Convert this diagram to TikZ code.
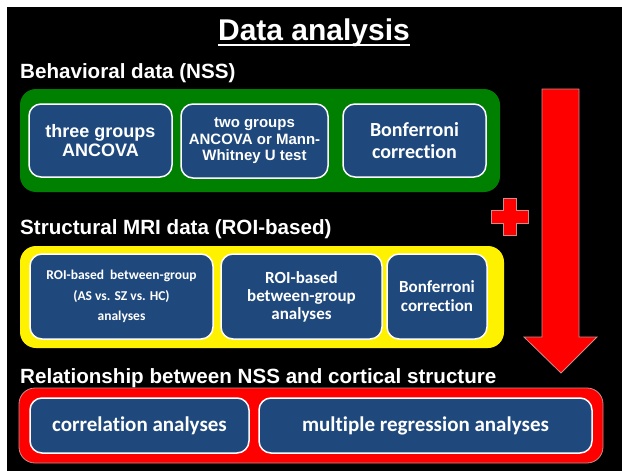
\documentclass[tikz,border=0pt]{standalone}
\usepackage{fontspec}
\newfontfamily\arialf{Liberation Sans}
\newfontfamily\calf{Carlito}[Ligatures=NoCommon]
\definecolor{boxblue}{RGB}{31,73,125}
\definecolor{grn}{RGB}{0,128,0}
\definecolor{edgered}{RGB}{205,140,140}
\begin{document}
\begin{tikzpicture}[x=1pt,y=-1pt,
  ibox/.style={draw=white, line width=1.5pt, fill=boxblue, rounded corners=12pt, text=white, align=center, inner sep=0pt},
  grp/.style={rounded corners=16pt, inner sep=0pt},
  head/.style={text=white, anchor=base west, inner sep=0pt, font=\arialf\bfseries\fontsize{20.6}{24}\selectfont},
  redshape/.style={fill=red, draw=edgered, line width=0.8pt}]
\useasboundingbox (0,0) rectangle (622,471);
\fill[white] (0,0) rectangle (622,471);
\fill[black] (7,7) rectangle (622,471);

% title
\node[text=white, inner sep=0pt, anchor=base, font=\arialf\bfseries\fontsize{30}{36}\selectfont] (title) at (314,41) {Data analysis};
\draw[white, line width=2pt] ([yshift=-4pt]title.base west) -- ([yshift=-4pt]title.base east);

% headings
\node[head] (hbeh) at (20,78) {Behavioral data (NSS)};
\node[head] (hmri) at (20,234) {Structural MRI data (ROI-based)};
\node[head] (hrel) at (20,383) {Relationship between NSS and cortical structure};

% group boxes
\node[grp, fill=grn, minimum width=480pt, minimum height=103pt] (gbeh) at (260,140.5) {};
\node[grp, fill=yellow, minimum width=484pt, minimum height=102pt] (gmri) at (262,297) {};
\node[grp, fill=red, draw=edgered, line width=0.8pt, minimum width=584pt, minimum height=75pt] (grel) at (311,425.5) {};

% behavioral boxes
\node[ibox, minimum width=143pt, minimum height=73pt, font=\arialf\bfseries\fontsize{18}{18.5}\selectfont] (b1) at (100.5,140.5) {three groups\\ANCOVA};
\node[ibox, minimum width=147pt, minimum height=74pt, font=\arialf\bfseries\fontsize{15}{16.5}\selectfont] (b2) at (254.5,141) {two groups\\ANCOVA or Mann-\\Whitney U test};
\node[ibox, minimum width=143pt, minimum height=73pt, font=\calf\bfseries\fontsize{20}{22}\selectfont] (b3) at (414.5,140.5) {Bonferroni\\correction};

% MRI boxes
\node[ibox, minimum width=183pt, minimum height=85pt, font=\calf\bfseries\fontsize{13.5}{20.5}\selectfont] (b4) at (121.5,296.5) {ROI-based\ \ between-group\\(AS vs. SZ vs. HC)\\analyses};
\node[ibox, minimum width=161pt, minimum height=85pt, font=\calf\bfseries\fontsize{17}{18}\selectfont] (b5) at (301.5,296.5) {ROI-based\\between-group\\analyses};
\node[ibox, minimum width=100pt, minimum height=85pt, font=\calf\bfseries\fontsize{17}{19}\selectfont] (b6) at (437,296.5) {Bonferroni\\correction};

% relationship boxes
\node[ibox, minimum width=219pt, minimum height=55pt, font=\calf\bfseries\fontsize{21}{24}\selectfont] (b7) at (139.5,425.5) {correlation analyses};
\node[ibox, minimum width=333pt, minimum height=55pt, font=\calf\bfseries\fontsize{21}{24}\selectfont] (b8) at (425.5,425.5) {multiple regression analyses};

% plus sign
\path[redshape] (503,198) -- (516,198) -- (516,210) -- (528,210) -- (528,223) -- (516,223) -- (516,235) -- (503,235) -- (503,223) -- (491,223) -- (491,210) -- (503,210) -- cycle;

% big down arrow
\path[redshape] (542,89) -- (579,89) -- (579,337) -- (597,337) -- (561,373) -- (524,337) -- (542,337) -- cycle;
\end{tikzpicture}
\end{document}
